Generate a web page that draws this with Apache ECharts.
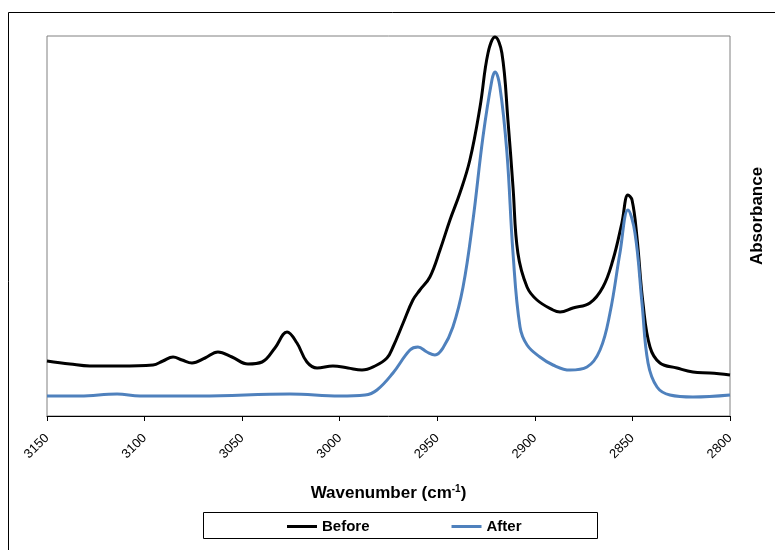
<!DOCTYPE html>
<html>
<head>
<meta charset="utf-8">
<script src="https://cdn.jsdelivr.net/npm/echarts@6/dist/echarts.min.js"></script>
<style>
  html, body { margin: 0; padding: 0; background: #fff; }
  #chart { width: 775px; height: 550px; }
</style>
</head>
<body>
<div id="chart"></div>
<script>
// FTIR C–H stretching region, absorbance before and after treatment
const wavenumberTicks = [3150, 3100, 3050, 3000, 2950, 2900, 2850, 2800];

const beforeWn = [3150.0, 3138.2, 3128.0, 3112.6, 3095.7, 3090.6, 3085.4, 3080.8, 3075.7, 3069.0,
  3062.4, 3055.2, 3047.0, 3039.8, 3033.2, 3027.0, 3021.9, 3016.8, 3011.6, 3003.5,
  2995.8, 2988.6, 2981.9, 2975.8, 2972.7, 2967.5, 2962.5, 2958.9, 2953.8, 2948.6,
  2943.5, 2938.4, 2933.3, 2928.1, 2924.0, 2920.4, 2916.9, 2913.8, 2911.2, 2908.7,
  2904.0, 2898.9, 2890.7, 2887.1, 2880.5, 2871.8, 2865.1, 2860.0, 2855.4, 2852.3,
  2850.2, 2847.7, 2844.6, 2841.0, 2835.9, 2827.2, 2819.0, 2810.3, 2800.0];
const beforeAbs = [0.055, 0.052, 0.050, 0.050, 0.051, 0.055, 0.059, 0.056, 0.053, 0.058,
  0.064, 0.059, 0.052, 0.054, 0.068, 0.084, 0.073, 0.054, 0.048, 0.050,
  0.048, 0.046, 0.050, 0.058, 0.069, 0.093, 0.116, 0.126, 0.139, 0.166,
  0.196, 0.223, 0.256, 0.309, 0.363, 0.379, 0.363, 0.296, 0.229, 0.163,
  0.129, 0.116, 0.106, 0.104, 0.108, 0.113, 0.129, 0.156, 0.193, 0.221,
  0.216, 0.179, 0.113, 0.069, 0.053, 0.048, 0.044, 0.043, 0.041];

const afterWn = [3150.0, 3133.1, 3114.1, 3102.3, 3071.6, 3025.5, 3000.0, 2987.0, 2980.9, 2972.7,
  2964.0, 2959.9, 2955.3, 2951.2, 2947.1, 2942.0, 2936.8, 2931.7, 2926.6, 2922.0,
  2920.4, 2917.9, 2914.3, 2911.2, 2907.6, 2904.0, 2897.4, 2890.7, 2882.0, 2873.3,
  2866.6, 2861.5, 2856.4, 2852.3, 2848.7, 2845.1, 2842.0, 2837.4, 2830.8, 2819.0, 2800.0];
const afterAbs = [0.020, 0.020, 0.022, 0.020, 0.020, 0.022, 0.020, 0.021, 0.026, 0.043,
  0.066, 0.069, 0.064, 0.061, 0.068, 0.089, 0.129, 0.196, 0.279, 0.336,
  0.344, 0.329, 0.263, 0.163, 0.089, 0.071, 0.059, 0.051, 0.046, 0.049,
  0.066, 0.103, 0.163, 0.206, 0.183, 0.113, 0.053, 0.029, 0.021, 0.019, 0.021];

const pairs = (xs, ys) => xs.map((x, i) => [x, ys[i]]);
const FONT = 'Liberation Sans, Arial, sans-serif';

const chart = echarts.init(document.getElementById('chart'), null, { renderer: 'canvas' });

chart.setOption({
  animation: false,
  backgroundColor: '#fff',
  grid: {
    left: 47, right: 45, top: 36, bottom: 134,
    show: true, borderColor: '#808080', borderWidth: 1, backgroundColor: 'transparent'
  },
  xAxis: {
    type: 'value',
    inverse: true,
    min: 2800, max: 3150, interval: 50,
    name: 'Wavenumber (cm{sup|-1})',
    nameLocation: 'middle',
    nameGap: 68,
    nameTextStyle: {
      fontFamily: FONT, fontWeight: 'bold', fontSize: 17, color: '#000',
      rich: { sup: { fontSize: 10, fontWeight: 'bold', verticalAlign: 'top', padding: [0, 0, 9, 0], fontFamily: FONT } }
    },
    axisLine: { show: true, lineStyle: { color: '#000', width: 1 } },
    axisTick: { show: true, inside: false, length: 5, lineStyle: { color: '#000' } },
    axisLabel: {
      rotate: 45, margin: 20, fontSize: 13, color: '#000', fontFamily: FONT,
      formatter: v => String(v)
    },
    splitLine: { show: false }
  },
  yAxis: {
    type: 'value',
    min: 0, max: 0.38,
    axisLine: { show: false },
    axisTick: { show: false },
    axisLabel: { show: false },
    splitLine: { show: false }
  },
  legend: {
    data: ['Before', 'After'],
    top: 519, left: 287, padding: 0,
    icon: 'rect', itemWidth: 30, itemHeight: 3, itemGap: 82,
    textStyle: { fontSize: 15, fontWeight: 'bold', color: '#000', fontFamily: FONT }
  },
  graphic: [
    { type: 'rect', shape: { x: 8.5, y: 12.5, width: 900, height: 700 }, style: { fill: 'none', stroke: '#000', lineWidth: 1 }, silent: true },
    { type: 'rect', shape: { x: 203.5, y: 512.5, width: 394, height: 26 }, style: { fill: 'none', stroke: '#000', lineWidth: 1 }, silent: true },
    { type: 'text', x: 757, y: 216, rotation: Math.PI / 2,
      style: { text: 'Absorbance', fontSize: 17, fontWeight: 'bold', fill: '#000', align: 'center', verticalAlign: 'middle', fontFamily: FONT } }
  ],
  series: [
    { name: 'Before', type: 'line', data: pairs(beforeWn, beforeAbs), smooth: 0.4, showSymbol: false,
      lineStyle: { color: '#000', width: 3 }, itemStyle: { color: '#000' } },
    { name: 'After', type: 'line', data: pairs(afterWn, afterAbs), smooth: 0.4, showSymbol: false,
      lineStyle: { color: '#4f81bd', width: 3 }, itemStyle: { color: '#4f81bd' } }
  ]
});
</script>
</body>
</html>
